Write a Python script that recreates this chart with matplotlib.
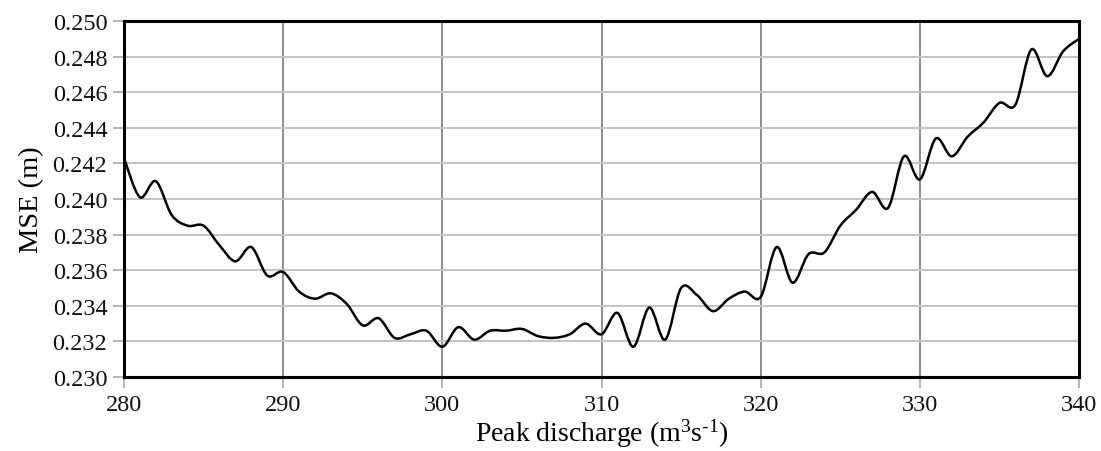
import matplotlib
matplotlib.use("Agg")
import matplotlib.pyplot as plt
from matplotlib.path import Path
from matplotlib.patches import PathPatch
import numpy as np

# peak discharge (m3/s) and MSE (m)
discharge = list(range(280, 341))
mse = [0.2423, 0.2401, 0.2410, 0.2391, 0.2385, 0.2385, 0.2374, 0.2365, 0.2373, 0.2357,
       0.2359, 0.2348, 0.2344, 0.2347, 0.2341, 0.2329, 0.2333, 0.2322, 0.2324, 0.2326,
       0.2317, 0.2328, 0.2321, 0.2326, 0.2326, 0.2327, 0.2323, 0.2322, 0.2324, 0.2330,
       0.2324, 0.2336, 0.2317, 0.2339, 0.2321, 0.2350, 0.2346, 0.2337, 0.2344, 0.2348,
       0.2345, 0.2373, 0.2353, 0.2369, 0.2370, 0.2385, 0.2394, 0.2404, 0.2395, 0.2424,
       0.2411, 0.2434, 0.2424, 0.2435, 0.2443, 0.2454, 0.2453, 0.2484, 0.2469, 0.2483,
       0.2490]

x_ticks = [280, 290, 300, 310, 320, 330, 340]
y_ticks = [0.230, 0.232, 0.234, 0.236, 0.238, 0.240, 0.242, 0.244, 0.246, 0.248, 0.250]

plt.rcParams['font.family'] = ['Liberation Serif', 'DejaVu Serif']
plt.rcParams['mathtext.fontset'] = 'custom'
plt.rcParams['mathtext.rm'] = 'Liberation Serif'


def smooth_path(xs, ys):
    # smoothed line (catmull-rom drawn as cubic bezier segments)
    pts = np.column_stack([xs, ys]).astype(float)
    verts = [pts[0]]
    codes = [Path.MOVETO]
    n = len(pts)
    for i in range(n - 1):
        p0 = pts[max(i - 1, 0)]
        p1 = pts[i]
        p2 = pts[i + 1]
        p3 = pts[min(i + 2, n - 1)]
        c1 = p1 + (p2 - p0) / 6.0
        c2 = p2 - (p3 - p1) / 6.0
        verts += [c1, c2, p2]
        codes += [Path.CURVE4] * 3
    return Path(verts, codes)


fig = plt.figure(figsize=(11.01, 4.52), dpi=100)
ax = fig.add_axes([0.1126, 0.1637, 0.8675, 0.7876])

ax.add_patch(PathPatch(smooth_path(discharge, mse), fill=False, edgecolor='black',
                       lw=1.8, zorder=3))

ax.set_xlim(280, 340)
ax.set_ylim(0.230, 0.250)
ax.set_xticks(x_ticks)
ax.set_yticks(y_ticks)
ax.set_yticklabels(['%.3f' % v for v in y_ticks])

ax.grid(axis='x', color='#858585', lw=1.3)
ax.grid(axis='y', color='#c4c4c4', lw=1.5)
ax.set_axisbelow(True)

for s in ax.spines.values():
    s.set_linewidth(2.2)
    s.set_color('black')

ax.tick_params(axis='both', labelsize=17.5, colors='#b0b0b0', labelcolor='#111111',
               length=8, width=1.3, pad=4)

ax.set_xlabel('Peak discharge (m$\\mathregular{^3}$s$\\mathregular{^{\\text{-}1}}$)',
              fontsize=20, labelpad=1)
ax.set_ylabel('MSE (m)', fontsize=20.5, labelpad=6)

fig.savefig('out.png', dpi=100)
